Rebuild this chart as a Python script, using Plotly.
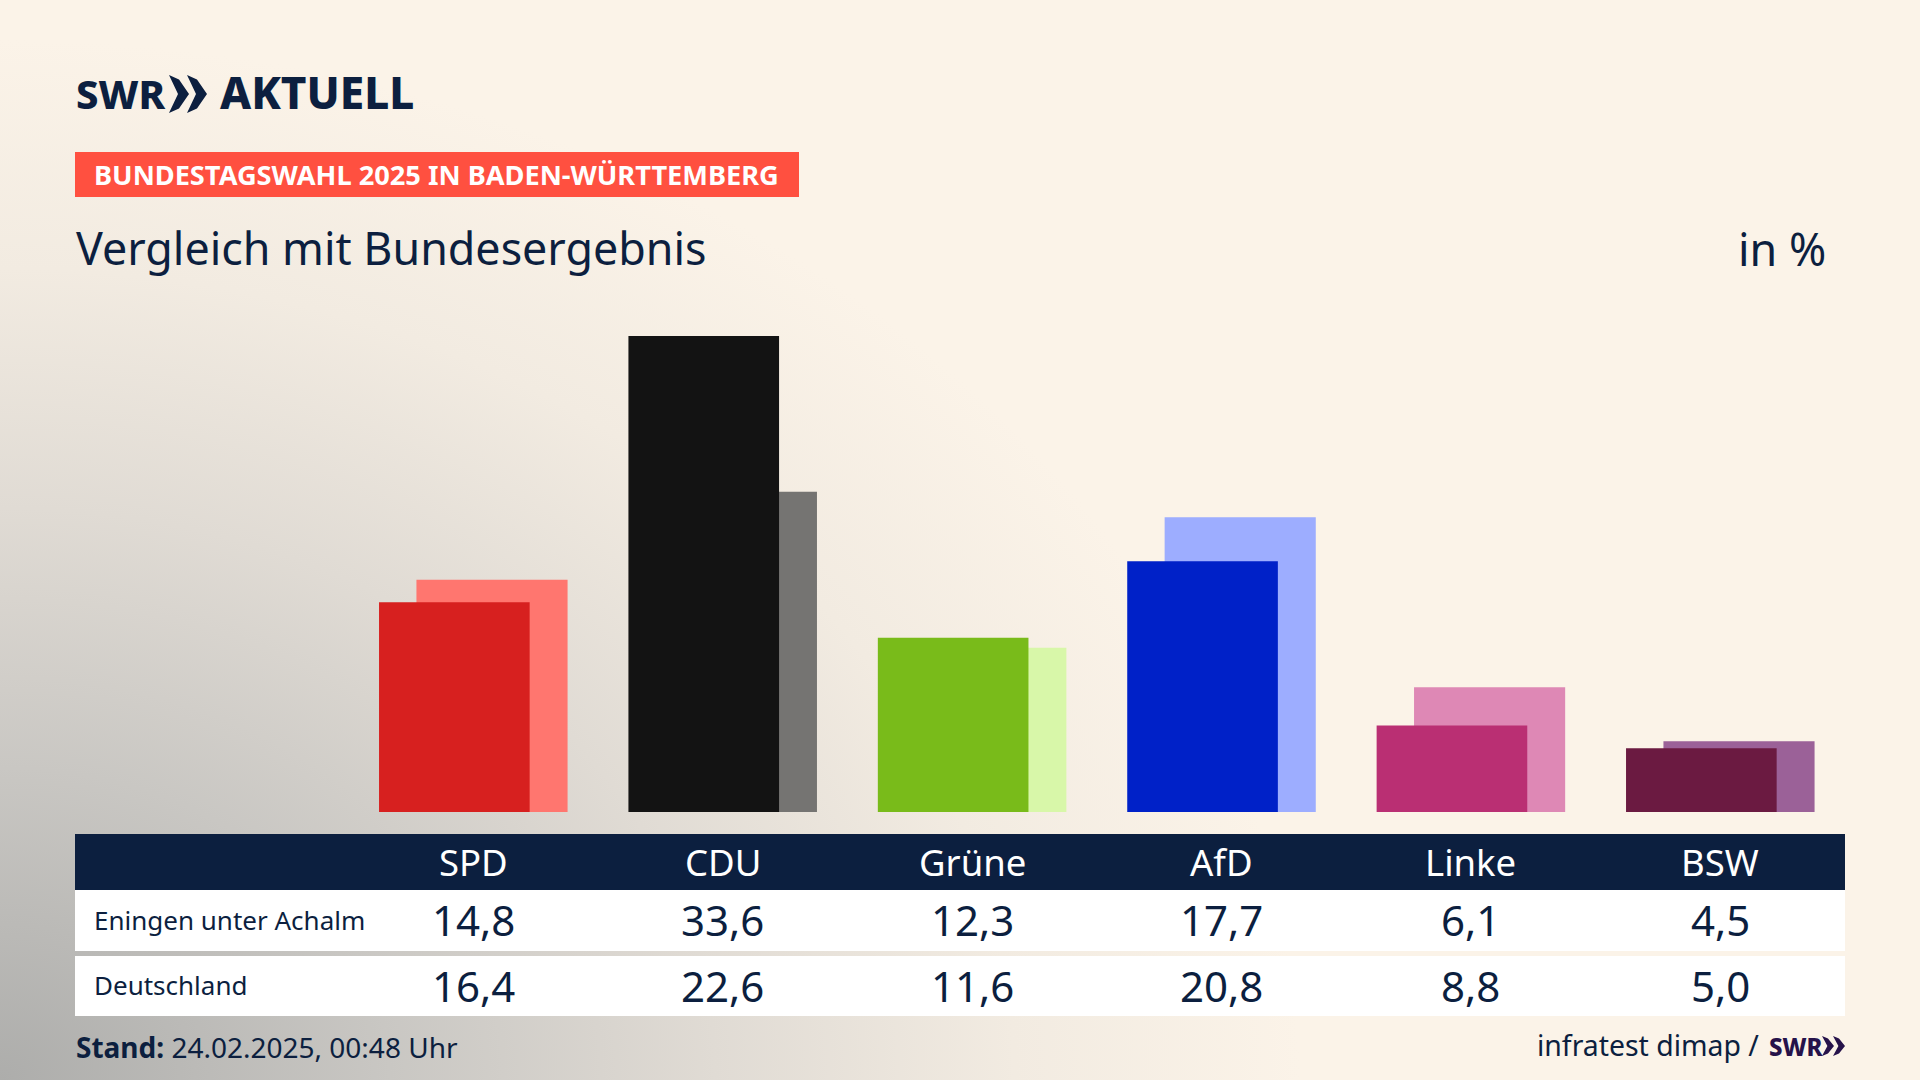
import base64
import plotly.graph_objects as go

parties = ["SPD", "CDU", "Grüne", "AfD", "Linke", "BSW"]
eningen = [14.8, 33.6, 12.3, 17.7, 6.1, 4.5]
deutschland = [16.4, 22.6, 11.6, 20.8, 8.8, 5.0]
row_names = ["Eningen unter Achalm", "Deutschland"]

colors_front = ["#d7201f", "#131313", "#79bb1a", "#0021c8", "#ba2f73", "#6b1a41"]
colors_back = ["#ff766f", "#757472", "#d8f7a9", "#9dadff", "#de88b5", "#9b6198"]

W, H = 1920, 1080
NAVY = "#0c1f3f"
FONT = "Noto Sans"


def px(x):
    return x / W


def py(y):
    return 1 - y / H


def rect(x0, y0, x1, y1, color):
    return dict(type="rect", xref="paper", yref="paper", x0=px(x0), x1=px(x1),
                y0=py(y0), y1=py(y1), fillcolor=color, line_width=0, layer="below")


def chevron(x, y, w, h, color):
    # one ">" of the SWR logo
    pts = [(x, y), (x + w * 0.5, y + h * 0.12), (x + w, y + h / 2), (x + w * 0.5, y + h * 0.88), (x, y + h), (x + w * 0.45, y + h / 2)]
    path = "M " + " L ".join(f"{px(a):.5f},{py(b):.5f}" for a, b in pts) + " Z"
    return dict(type="path", xref="paper", yref="paper", path=path, fillcolor=color, line_width=0)


def label(x, y, text, size, color=NAVY, anchor="left", weight=None):
    font = dict(family=FONT, size=size, color=color)
    if weight:
        font["weight"] = weight
    return dict(xref="paper", yref="paper", x=px(x), y=py(y), text=text, showarrow=False,
                xanchor=anchor, yanchor="middle", font=font, borderpad=0)


# background: cream with the grey corner bottom left
svg = f"""<svg xmlns="http://www.w3.org/2000/svg" width="{W}" height="{H}">
<defs><radialGradient id="g" gradientUnits="userSpaceOnUse" cx="0" cy="0" r="1"
 gradientTransform="translate(0 1080) scale(1300 1040)">
<stop offset="0" stop-color="#adadab"/>
<stop offset="0.3" stop-color="#c9c7c3"/>
<stop offset="0.55" stop-color="#e0dbd4"/>
<stop offset="0.78" stop-color="#f2ebe1"/>
<stop offset="1" stop-color="#fbf3e8"/>
</radialGradient></defs>
<rect width="{W}" height="{H}" fill="url(#g)"/></svg>"""
bg_src = "data:image/svg+xml;base64," + base64.b64encode(svg.encode()).decode()

fig = go.Figure()
fig.add_bar(x=parties, y=deutschland, marker_color=colors_back, marker_line_width=0,
            width=0.606, offset=-0.228, name="Deutschland", hoverinfo="x+y")
fig.add_bar(x=parties, y=eningen, marker_color=colors_front, marker_line_width=0,
            width=0.604, offset=-0.378, name="Eningen unter Achalm", hoverinfo="x+y")

shapes = [
    rect(75, 152, 799, 197, "#ff5040"),
    rect(75, 834, 1845, 890, NAVY),
    rect(75, 890, 1845, 951, "#ffffff"),
    rect(75, 956, 1845, 1016, "#ffffff"),
    chevron(169, 75, 20, 38, NAVY),
    chevron(187, 75, 20, 38, NAVY),
    chevron(1822, 1036, 12, 20, "#26124a"),
    chevron(1833, 1036, 12, 20, "#26124a"),
]

annotations = [
    label(75, 93, "SWR", 40, weight=800),
    label(219, 92, "AKTUELL", 44, weight=800),
    label(93, 175, "BUNDESTAGSWAHL 2025 IN BADEN-WÜRTTEMBERG", 27.2, color="#ffffff", weight=700),
    label(75, 247, "Vergleich mit Bundesergebnis", 44.8),
    label(1827, 248, "in %", 44.8, anchor="right"),
    label(93, 920, row_names[0], 26),
    label(93, 985, row_names[1], 26),
    label(75, 1047, "<b>Stand:</b> 24.02.2025, 00:48 Uhr", 28),
    label(1760, 1045, "infratest dimap /", 28.4, anchor="right"),
    label(1768, 1046, "SWR", 24, weight=800, color="#26124a"),
]

for party, a, b in zip(parties, eningen, deutschland):
    for y, text, size, color in [
        (862, party, 36.5, "#ffffff"),
        (919, f"{a:.1f}".replace(".", ","), 42, NAVY),
        (985, f"{b:.1f}".replace(".", ","), 42, NAVY),
    ]:
        annotations.append(dict(xref="x", yref="paper", x=party, y=py(y), text=text, showarrow=False,
                                xanchor="center", yanchor="middle",
                                font=dict(family=FONT, size=size, color=color)))

fig.update_layout(
    width=W, height=H,
    margin=dict(l=0, r=0, t=0, b=0),
    autosize=False,
    barmode="overlay",
    showlegend=False,
    paper_bgcolor="#fbf3e8",
    plot_bgcolor="rgba(0,0,0,0)",
    xaxis=dict(domain=[348.6 / W, 1845 / W], type="category", categoryorder="array", categoryarray=parties,
               range=[-0.5, 5.5], visible=False),
    yaxis=dict(domain=[py(812), py(302)], range=[0, 36], visible=False),
    shapes=shapes,
    annotations=annotations,
    images=[dict(source=bg_src, xref="paper", yref="paper", x=0, y=1, sizex=1, sizey=1,
                 xanchor="left", yanchor="top", sizing="stretch", layer="below")],
)

# the page has a default body margin, the chart has to fill the window
fig.write_html("out.html", config=dict(displayModeBar=False),
               post_script="document.body.style.margin='0';document.body.style.overflow='hidden';")
